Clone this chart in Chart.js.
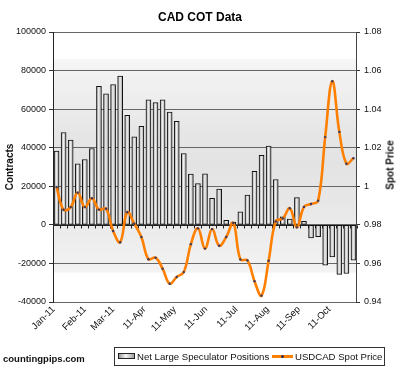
<!DOCTYPE html>
<html><head><meta charset="utf-8">
<script src="https://cdn.jsdelivr.net/npm/chart.js@4/dist/chart.umd.min.js"></script>
<style>
html,body{margin:0;padding:0;background:#fff;}
#wrap{position:relative;width:400px;height:369px;overflow:hidden;}
#c{position:absolute;left:0;top:0;}
.txt{font-family:"Liberation Sans",Arial,sans-serif;color:#111;white-space:nowrap;position:absolute;}
#site{left:3px;top:353px;font-size:9.5px;font-weight:bold;line-height:11px;}
#rtitle{left:390px;top:165px;font-size:10px;font-weight:bold;transform:translate(-50%,-50%) rotate(-90deg);}
#legend{position:absolute;left:114px;top:347px;width:269px;height:17px;border:1px solid #333;background:#fff;}
#legend .t{font-size:9.6px;line-height:11px;top:3px;}
#barIcon{position:absolute;left:3px;top:5px;width:15px;height:4px;border:1px solid #222;background:linear-gradient(to right,#999,#f4f4f4 45%,#a0a0a0);}
#lineIcon{position:absolute;left:157px;top:7px;width:21px;height:3px;background:#ff7f00;}
#lineIcon i{position:absolute;left:9px;top:0;width:3px;height:3px;background:#334;border-radius:50%;}
</style></head>
<body>
<div id="wrap">
<canvas id="c" width="400" height="369"></canvas>
<div id="site" class="txt">countingpips.com</div>
<div id="rtitle" class="txt">Spot Price</div>
<div id="legend">
  <span id="barIcon"></span>
  <span class="txt t" id="l1" style="left:22px">Net Large Speculator Positions</span>
  <span id="lineIcon"><i></i></span>
  <span class="txt t" id="l2" style="left:180px">USDCAD Spot Price</span>
</div>
</div>
<script>
// ---- data ----
const WEEKS = ["2011-01-04","2011-01-11","2011-01-18","2011-01-25","2011-02-01","2011-02-08","2011-02-15","2011-02-22",
"2011-03-01","2011-03-08","2011-03-15","2011-03-22","2011-03-29","2011-04-05","2011-04-12","2011-04-19","2011-04-26",
"2011-05-03","2011-05-10","2011-05-17","2011-05-24","2011-05-31","2011-06-07","2011-06-14","2011-06-21","2011-06-28",
"2011-07-05","2011-07-12","2011-07-19","2011-07-26","2011-08-02","2011-08-09","2011-08-16","2011-08-23","2011-08-30",
"2011-09-06","2011-09-13","2011-09-20","2011-09-27","2011-10-04","2011-10-11","2011-10-18","2011-10-25"];
const NET_POSITIONS = [38300,47900,43900,31600,33900,39600,71800,68000,72700,77200,56800,45600,51100,64800,63400,64800,58500,53700,37000,26300,21400,26400,13700,18500,2300,1500,6700,15400,27800,36100,40900,23500,4100,3000,14100,1800,-6800,-6100,-20900,-16600,-25700,-25200,-18300];
const SPOT_PRICE = [0.9996,0.9878,0.9892,0.9967,0.9892,0.9938,0.9879,0.9884,0.9768,0.9710,0.9866,0.9806,0.9737,0.9622,0.9630,0.9573,0.9495,0.9530,0.9555,0.9700,0.9782,0.9677,0.9778,0.9692,0.9737,0.9810,0.9621,0.9616,0.9508,0.9433,0.9614,0.9818,0.9833,0.9886,0.9787,0.9893,0.9908,0.9925,1.0255,1.0545,1.0282,1.0117,1.0146];
const MONTH_STARTS = ["2011-01-01","2011-02-01","2011-03-01","2011-04-01","2011-05-01","2011-06-01","2011-07-01","2011-08-01","2011-09-01","2011-10-01"];
const MONTH_LABELS = ["Jan-11","Feb-11","Mar-11","11-Apr","11-May","11-Jun","11-Jul","11-Aug","11-Sep","11-Oct"];
const SERIES_NAMES = ["Net Large Speculator Positions","USDCAD Spot Price"];

const DAY0 = Date.UTC(2011,0,1);
const dayOf = s => { const [y,m,d] = s.split('-').map(Number); return Math.round((Date.UTC(y,m-1,d)-DAY0)/86400000); };
const weekDays = WEEKS.map(dayOf);
const monthDays = MONTH_STARTS.map(dayOf);

const FONT = '"Liberation Sans", Arial, sans-serif';

const bgPlugin = {
  id:'bg',
  beforeDraw(chart){
    const {ctx, chartArea:a} = chart;
    const g = ctx.createLinearGradient(0,a.top,0,a.bottom);
    g.addColorStop(0,'#ffffff'); g.addColorStop(0.098,'#ffffff');
    g.addColorStop(0.1,'#f7f7f7'); g.addColorStop(0.15,'#f2f2f2');
    g.addColorStop(0.28,'#ececec'); g.addColorStop(0.37,'#e6e6e6');
    g.addColorStop(0.48,'#e3e3e3'); g.addColorStop(0.63,'#e7e7e7');
    g.addColorStop(0.79,'#eeeeee'); g.addColorStop(0.89,'#f3f3f3');
    g.addColorStop(0.892,'#ffffff'); g.addColorStop(1,'#ffffff');
    ctx.save(); ctx.fillStyle=g; ctx.fillRect(a.left,a.top,a.right-a.left,a.bottom-a.top); ctx.restore();
  },
  beforeDatasetsDraw(chart){
    const {ctx, chartArea:a, scales} = chart;
    const y0 = Math.round(scales.y.getPixelForValue(0))+0.5;
    ctx.save();
    ctx.strokeStyle='#222'; ctx.lineWidth=1;
    ctx.beginPath(); ctx.moveTo(a.left,y0); ctx.lineTo(a.right,y0);
    weekDays.forEach(d=>{ const x=Math.round(scales.x.getPixelForValue(d+3.5))+0.5; ctx.moveTo(x,y0); ctx.lineTo(x,y0+3); });
    ctx.stroke(); ctx.restore();
  }
};

new Chart(document.getElementById('c'), {
  data:{
    datasets:[
      {type:'line', label:SERIES_NAMES[1], yAxisID:'y2', order:0,
       data: weekDays.map((d,i)=>({x:d,y:SPOT_PRICE[i]})),
       borderColor:'#ff7f00', borderWidth:2.6, tension:0.4, fill:false,
       pointRadius:1.2, pointBackgroundColor:'#3a3a60', pointBorderWidth:0},
      {type:'bar', label:SERIES_NAMES[0], yAxisID:'y', order:1,
       data: weekDays.map((d,i)=>({x:d,y:NET_POSITIONS[i]})),
       barThickness:5, borderWidth:1, borderColor:'#111', borderSkipped:false,
       backgroundColor:(c)=>{
         const ch=c.chart, xs=ch.scales && ch.scales.x;
         if(!xs || c.type!=='data' || !c.raw) return '#d8d8d8';
         const px=xs.getPixelForValue(c.raw.x);
         if(!isFinite(px)) return '#d8d8d8';
         const g=ch.ctx.createLinearGradient(px-2.5,0,px+2.5,0);
         g.addColorStop(0,'#8a8a8a'); g.addColorStop(0.45,'#f2f2f2'); g.addColorStop(1,'#9a9a9a');
         return g;
       }}
    ]
  },
  options:{
    responsive:false, animation:false, devicePixelRatio:1,
    layout:{padding:0},
    plugins:{
      legend:{display:false}, tooltip:{enabled:false},
      title:{display:true, text:'CAD COT Data', color:'#000', font:{family:FONT,size:12,weight:'bold',lineHeight:1.2}, padding:{top:10,bottom:7.6}}
    },
    scales:{
      x:{type:'linear', min:-0.5, max:299.5, offset:false,
         grid:{display:false, drawTicks:false}, border:{display:false},
         afterBuildTicks:(s)=>{ s.ticks = monthDays.map(v=>({value:v})); },
         ticks:{autoSkip:false, minRotation:45, maxRotation:45, padding:2, color:'#111',
                font:{family:FONT,size:9.5},
                callback:(v)=>{ const i=monthDays.indexOf(v); return i>=0?MONTH_LABELS[i]:''; }},
         afterFit:(s)=>{ s.height=67; }},
      y:{position:'left', min:-40000, max:100000,
         ticks:{stepSize:20000, color:'#111', padding:3, font:{family:FONT,size:9},
                callback:(v)=>String(v)},
         grid:{color:'#666', tickLength:4, tickColor:'#333'},
         border:{color:'#222'},
         title:{display:true, text:'Contracts', color:'#111', font:{family:FONT,size:10,weight:'bold'}, padding:{top:4,bottom:0}},
         afterFit:(s)=>{ s.width=53; }},
      y2:{position:'right', min:0.94, max:1.08,
         ticks:{stepSize:0.02, color:'#111', padding:4, font:{family:FONT,size:9},
                callback:(v)=>String(parseFloat(Number(v).toFixed(2)))},
         grid:{drawOnChartArea:false, tickLength:4, tickColor:'#333'},
         border:{color:'#444'},
         afterFit:(s)=>{ s.width=44; }}
    }
  },
  plugins:[bgPlugin]
});
</script>
</body></html>
